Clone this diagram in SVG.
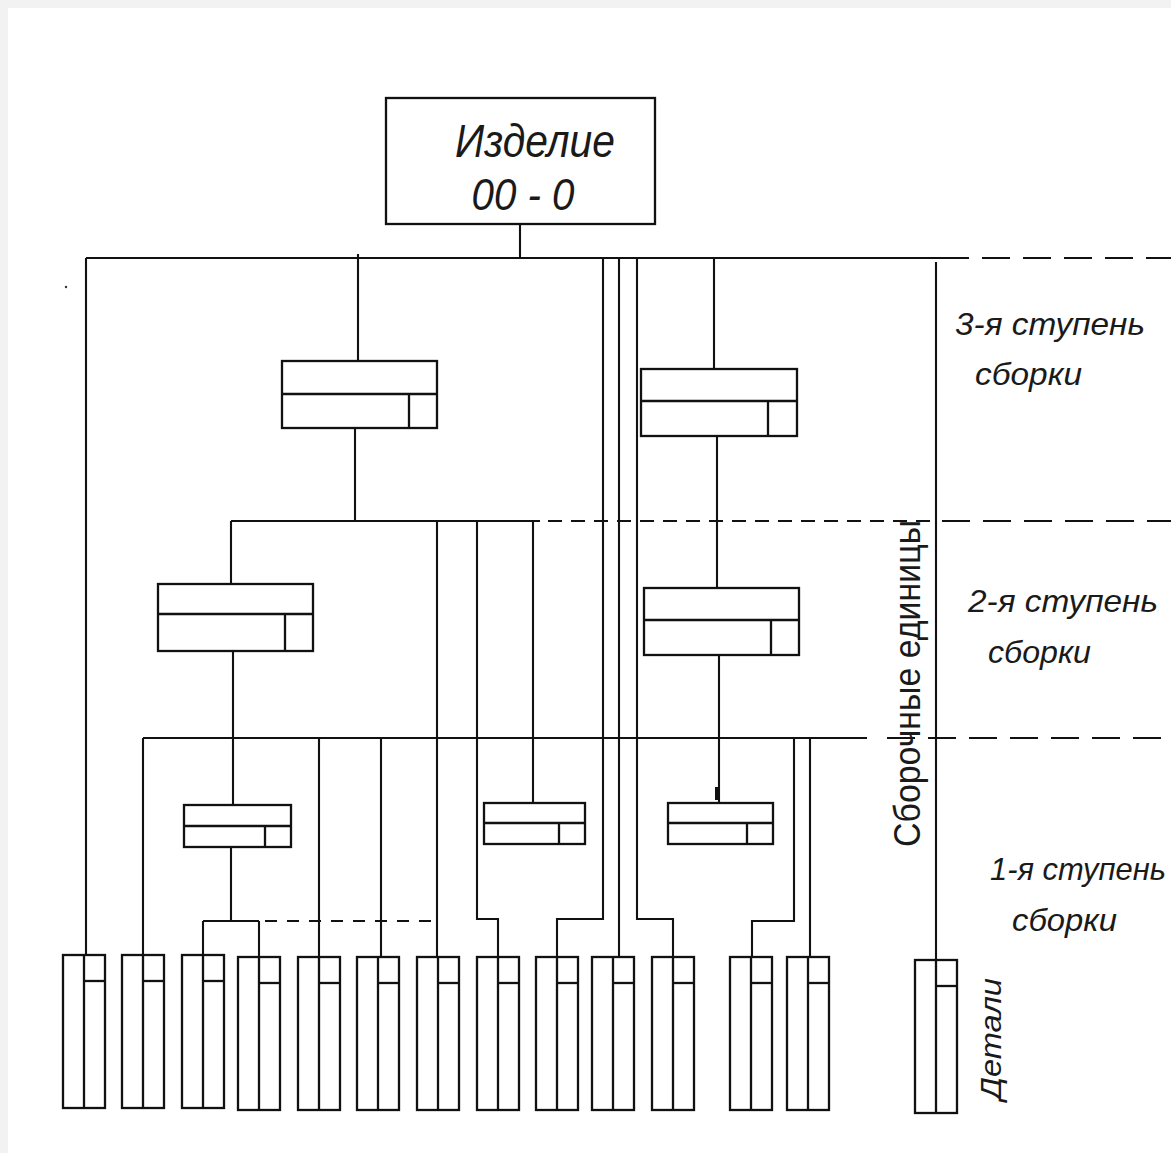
<svg xmlns="http://www.w3.org/2000/svg" xmlns:xlink="http://www.w3.org/1999/xlink" width="1171" height="1153" viewBox="0 0 1171 1153">
<style>
.b{fill:none;stroke:#111;stroke-width:2.3}
.c{fill:none;stroke:#111;stroke-width:2.1}
.d{fill:none;stroke:#111;stroke-width:2.1;stroke-dasharray:28 13}
.ds{fill:none;stroke:#111;stroke-width:2.1;stroke-dasharray:14 9}
.dm{fill:none;stroke:#111;stroke-width:2.1;stroke-dasharray:12 10}
.t{font-family:"Liberation Sans",Arial,sans-serif;font-style:italic;fill:#1a1a1a}
.v{font-family:"Liberation Sans",Arial,sans-serif;fill:#1a1a1a}
</style>
<defs>
<symbol id="det" overflow="visible">
<rect class="b" x="0" y="0" width="42" height="153"/>
<line class="b" x1="21" y1="0" x2="21" y2="153"/>
<line class="b" x1="21" y1="26" x2="42" y2="26"/>
</symbol>
</defs>
<rect x="0" y="0" width="1171" height="1153" fill="#f2f2f2"/>
<rect x="8" y="8" width="1163" height="1145" fill="#ffffff"/>
<circle cx="66" cy="287" r="1.2" fill="#333"/>

<g id="connectors">
<path class="c" d="M520 224V258M86 258H969M86 258V955"/>
<line class="d" x1="982" y1="258" x2="1171" y2="258"/>
<path class="c" d="M358 254V361M355 428V521M714 258V369M717 436V588"/>
<path class="c" d="M231 521H540M231 521V584"/>
<line class="ds" x1="548" y1="521" x2="930" y2="521"/>
<line class="d" x1="942" y1="521" x2="1171" y2="521"/>
<path class="c" d="M437 521V957M477 521V919H498V957M533 521V803"/>
<path class="c" d="M603 258V919H557V957M619 258V957M637 258V919H673V957"/>
<path class="c" d="M936 262V960"/>
<path class="c" d="M143 738H867M143 738V955M233 651V805M719 655V803"/>
<line class="d" x1="887" y1="738" x2="1171" y2="738"/>
<path class="c" d="M231 847V921M203 921H259M203 921V955M259 921V957"/>
<line class="dm" x1="265" y1="921" x2="437" y2="921"/>
<path class="c" d="M319 738V957M381 738V957M794 738V921H752V957M810 738V957"/>
<rect x="715" y="787" width="4" height="13" fill="#111"/>
</g>

<g id="node-product">
<rect class="b" x="386" y="98" width="269" height="126" fill="#fff"/>
<text class="t" x="535" y="157" font-size="46" text-anchor="middle" textLength="160" lengthAdjust="spacingAndGlyphs">Изделие</text>
<text class="t" x="523" y="210" font-size="44" text-anchor="middle" textLength="103" lengthAdjust="spacingAndGlyphs">00 - 0</text>
</g>

<g id="node-a3-left">
<rect class="b" x="282" y="361" width="155" height="67"/>
<path class="b" d="M282 394H437M409 394V428"/>
</g>
<g id="node-a3-right">
<rect class="b" x="641" y="369" width="156" height="67"/>
<path class="b" d="M641 401H797M768 401V436"/>
</g>
<g id="node-a2-left">
<rect class="b" x="158" y="584" width="155" height="67"/>
<path class="b" d="M158 614H313M285 614V651"/>
</g>
<g id="node-a2-right">
<rect class="b" x="644" y="588" width="155" height="67"/>
<path class="b" d="M644 620H799M771 620V655"/>
</g>
<g id="node-a1-left">
<rect class="b" x="184" y="805" width="107" height="42"/>
<path class="b" d="M184 826H291M265 826V847"/>
</g>
<g id="node-a1-mid">
<rect class="b" x="484" y="803" width="101" height="41"/>
<path class="b" d="M484 823H585M559 823V844"/>
</g>
<g id="node-a1-right">
<rect class="b" x="668" y="803" width="105" height="41"/>
<path class="b" d="M668 823H773M747 823V844"/>
</g>

<g id="detail-1"><use xlink:href="#det" x="63" y="955"/></g>
<g id="detail-2"><use xlink:href="#det" x="122" y="955"/></g>
<g id="detail-3"><use xlink:href="#det" x="182" y="955"/></g>
<g id="detail-4"><use xlink:href="#det" x="238" y="957"/></g>
<g id="detail-5"><use xlink:href="#det" x="298" y="957"/></g>
<g id="detail-6"><use xlink:href="#det" x="357" y="957"/></g>
<g id="detail-7"><use xlink:href="#det" x="417" y="957"/></g>
<g id="detail-8"><use xlink:href="#det" x="477" y="957"/></g>
<g id="detail-9"><use xlink:href="#det" x="536" y="957"/></g>
<g id="detail-10"><use xlink:href="#det" x="592" y="957"/></g>
<g id="detail-11"><use xlink:href="#det" x="652" y="957"/></g>
<g id="detail-12"><use xlink:href="#det" x="730" y="957"/></g>
<g id="detail-13"><use xlink:href="#det" x="787" y="957"/></g>
<g id="detail-14"><use xlink:href="#det" x="915" y="960"/></g>

<g id="labels">
<text class="t" x="955" y="335" font-size="32" textLength="190" lengthAdjust="spacingAndGlyphs">3-я ступень</text>
<text class="t" x="975" y="385" font-size="32" textLength="107" lengthAdjust="spacingAndGlyphs">сборки</text>
<text class="t" x="968" y="612" font-size="32" textLength="190" lengthAdjust="spacingAndGlyphs">2-я ступень</text>
<text class="t" x="988" y="663" font-size="32" textLength="103" lengthAdjust="spacingAndGlyphs">сборки</text>
<text class="t" x="990" y="880" font-size="32" textLength="176" lengthAdjust="spacingAndGlyphs">1-я ступень</text>
<text class="t" x="1012" y="931" font-size="32" textLength="105" lengthAdjust="spacingAndGlyphs">сборки</text>
<text class="v" transform="translate(920 847) rotate(-90)" font-size="36" textLength="327" lengthAdjust="spacingAndGlyphs">Сборочные единицы</text>
<text class="t" transform="translate(1001 1100) rotate(-90)" font-size="30" textLength="122" lengthAdjust="spacingAndGlyphs">Детали</text>
</g>
</svg>
